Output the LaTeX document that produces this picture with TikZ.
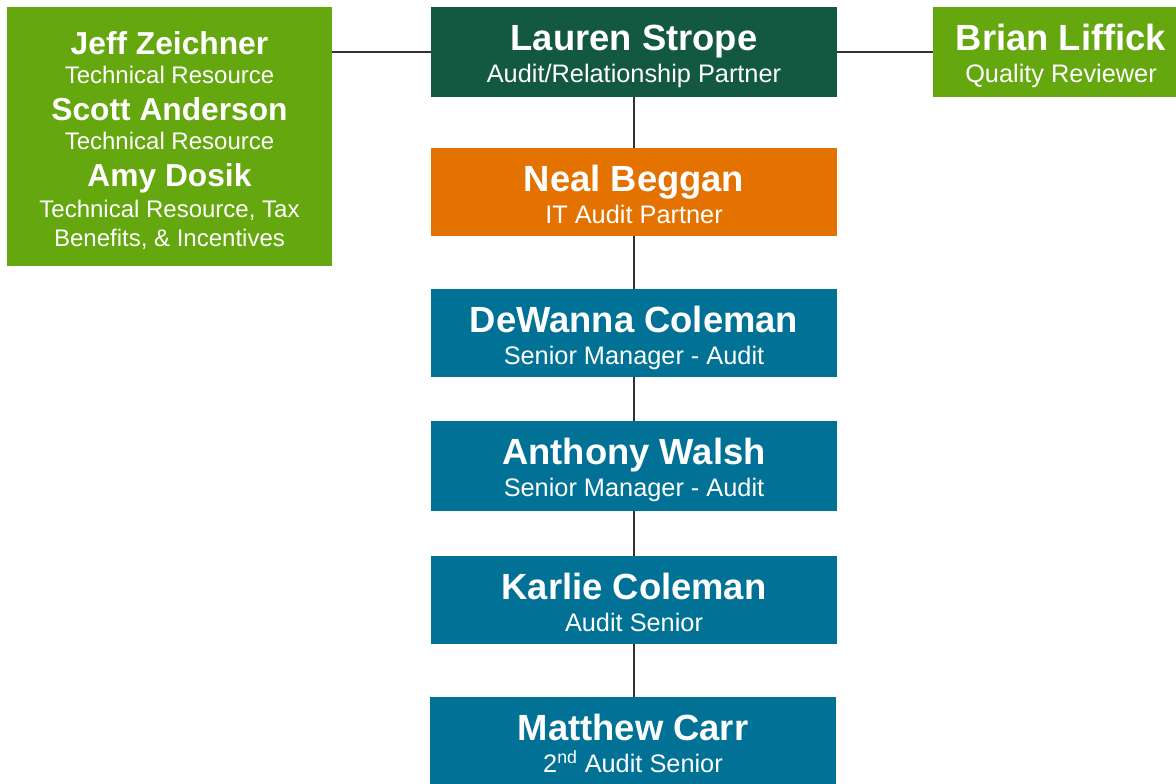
\documentclass[tikz,border=0pt]{standalone}
\usepackage{fontspec}
\setmainfont{Liberation Sans}
\definecolor{dkgreen}{RGB}{19,88,64}
\definecolor{ltgreen}{RGB}{101,167,14}
\definecolor{orng}{RGB}{228,114,0}
\definecolor{teal}{RGB}{1,114,150}
\definecolor{linec}{RGB}{50,50,50}
\newcommand{\nm}[1]{{\fontsize{27.3}{24}\selectfont\bfseries #1}}
\newcommand{\lnm}[1]{{\fontsize{23.8}{21.75}\selectfont\bfseries #1}}
\newcommand{\mtext}[3]{\rule{0pt}{32.25pt}\nm{#1}\\#2\rule[-#3]{0pt}{#3}}
\tikzset{
  box/.style={inner xsep=0pt, inner ysep=0pt, text=white, align=center,
    font=\fontsize{19}{24}\selectfont},
  mainbox/.style={box, minimum width=304.5pt},
  conn/.style={draw=linec, line width=0.9pt}
}
\begin{document}
\begin{tikzpicture}[x=0.75pt, y=-0.75pt]
\clip (0,0) rectangle (1176,783);
\fill[white] (0,0) rectangle (1176,783);
% left group box
\node[box, fill=ltgreen, minimum width=243.75pt, font=\fontsize{18}{21.75}\selectfont] (tech) at (169.5,136.5)
  {\rule{0pt}{35.25pt}\lnm{Jeff Zeichner}\\ Technical Resource\\[6pt]
   \lnm{Scott Anderson}\\ Technical Resource\\[6pt]
   \lnm{Amy Dosik}\\[1.5pt] Technical Resource, Tax\\ Benefits, \& Incentives\rule[-15pt]{0pt}{15pt}};
\node[mainbox, fill=dkgreen] (lauren) at (634,52) {\mtext{Lauren Strope}{Audit/Relationship Partner}{11.25pt}};
\node[box, fill=ltgreen, minimum width=192pt] (brian) at (1061,52) {\mtext{Brian Liffick}{Quality Reviewer}{11.25pt}};
\node[mainbox, fill=orng] (neal) at (634,192) {\mtext{Neal Beggan}{IT Audit Partner}{9.75pt}};
\node[mainbox, fill=teal] (dewanna) at (634,333) {\mtext{DeWanna Coleman}{Senior Manager - Audit}{9.75pt}};
\node[mainbox, fill=teal] (anthony) at (634,466) {\mtext{Anthony Walsh}{Senior Manager - Audit}{11.25pt}};
\node[mainbox, fill=teal] (karlie) at (634,600) {\mtext{Karlie Coleman}{Audit Senior}{9.75pt}};
\node[mainbox, fill=teal] (matthew) at (633,742) {\mtext{Matthew Carr}{2\textsuperscript{nd} Audit Senior}{11.25pt}};
% connectors
\draw[conn] (lauren.west) -- (lauren.west -| tech.east);
\draw[conn] (lauren.east) -- (brian.west);
\draw[conn] (lauren.south) -- (neal.north);
\draw[conn] (neal.south) -- (dewanna.north);
\draw[conn] (dewanna.south) -- (anthony.north);
\draw[conn] (anthony.south) -- (karlie.north);
\draw[conn] (karlie.south) -- (karlie.south |- matthew.north);
\end{tikzpicture}
\end{document}
